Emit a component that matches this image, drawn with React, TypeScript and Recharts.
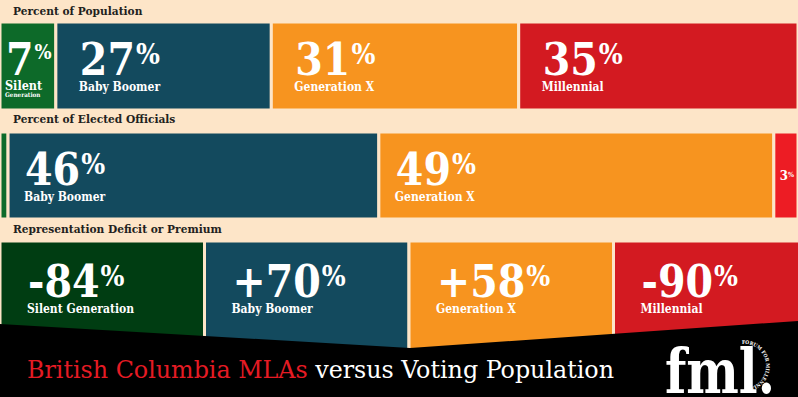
import React from 'react';
import { BarChart, Bar, XAxis, YAxis, LabelList } from 'recharts';

// generations, left to right
const generations = ['Silent Generation', 'Baby Boomer', 'Generation X', 'Millennial'];
const genKeys = ['silent', 'boomer', 'genx', 'millennial'];

// row values (percent)
const populationShare = [7, 27, 31, 35];
const electedShare = [1, 46, 49, 3];
const representationGap = [-84, 70, 58, -90];
// deficit row: every generation gets an equal cell
const gapCellShare = [1, 1, 1, 1];

const rowTitles = ['Percent of Population', 'Percent of Elected Officials', 'Representation Deficit or Premium'];

const BG = '#fde5c8';
const INK = '#231f20';
const FONT = '"DejaVu Serif Condensed", "DejaVu Serif", serif';

const populationColors = ['#0d6a29', '#134a5e', '#f7941f', '#d31a21'];
const electedColors = ['#0d6a29', '#134a5e', '#f7941f', '#ed1c24'];
const gapColors = ['#003d12', '#134a5e', '#f7941f', '#d31a21'];

const fmtShare = (v: number) => `${v}`;
const fmtGap = (v: number) => (v > 0 ? `+${v}` : `${v}`);

const SegmentLabel = (props: any) => {
  const { x, y, width, text, name, offset, lift } = props;
  const bx = Number(x);
  const top = Number(y) + 1.5;
  const w = Number(width);

  if (w > 120) {
    return (
      <g fontFamily={FONT} fontWeight="bold" fill="#fff">
        <text x={bx + offset} y={top + 51 + lift}>
          <tspan fontSize={44}>{text}</tspan>
          <tspan fontSize={28} dx={1} dy={-11}>%</tspan>
        </text>
        <text x={bx + offset - 1} y={top + 67 + lift} fontSize={12}>{name}</text>
      </g>
    );
  }
  if (w > 40) {
    const words = name.split(' ');
    return (
      <g fontFamily={FONT} fontWeight="bold" fill="#fff">
        <text x={bx + 6} y={top + 51}>
          <tspan fontSize={44}>{text}</tspan>
          <tspan fontSize={20} dx={1} dy={-16}>%</tspan>
        </text>
        <text x={bx + 5} y={top + 66} fontSize={12.5}>{words[0]}</text>
        <text x={bx + 5} y={top + 73.5} fontSize={6.3}>{words[1]}</text>
      </g>
    );
  }
  if (w > 15) {
    return (
      <text x={bx + 6} y={top + 46} fontFamily={FONT} fontWeight="bold" fill="#fff">
        <tspan fontSize={13}>{text}</tspan>
        <tspan fontSize={7} dy={-3}>%</tspan>
      </text>
    );
  }
  return null;
};

interface RowProps {
  top: number;
  height: number;
  width: number;
  values: number[];
  labels: string[];
  colors: string[];
  domainMax: number;
  offset: number;
  lift?: number;
}

const StackRow = ({ top, height, width, values, labels, colors, domainMax, offset, lift = 0 }: RowProps) => {
  const row: Record<string, any> = { name: 'row' };
  genKeys.forEach((k, i) => { row[k] = values[i]; });
  return (
    <div style={{ position: 'absolute', left: 0, top: top - 1.5 }}>
      <BarChart
        width={width}
        height={height + 3}
        data={[row]}
        layout="vertical"
        margin={{ top: 0, right: 0, bottom: 0, left: 0 }}
        barCategoryGap={0}
      >
        <XAxis type="number" hide domain={[0, domainMax]} allowDataOverflow />
        <YAxis type="category" dataKey="name" hide width={0} />
        {genKeys.map((k, i) => (
          <Bar key={k} dataKey={k} stackId="s" fill={colors[i]} stroke={BG} strokeWidth={3} isAnimationActive={false}>
            <LabelList
              dataKey={k}
              content={(p: any) => (
                <SegmentLabel {...p} text={labels[i]} name={generations[i]} offset={offset} lift={lift} />
              )}
            />
          </Bar>
        ))}
      </BarChart>
    </div>
  );
};

export default function App() {
  const sum = (a: number[]) => a.reduce((s, v) => s + v, 0);
  return (
    <div style={{ position: 'relative', width: 798, height: 397, overflow: 'hidden', background: BG }}>
      <style>{'body{margin:0}'}</style>

      <StackRow top={23} height={85} width={798} values={populationShare}
        labels={populationShare.map(fmtShare)} colors={populationColors}
        domainMax={sum(populationShare)} offset={24} />
      <StackRow top={133} height={84} width={798} values={electedShare}
        labels={electedShare.map(fmtShare)} colors={electedColors}
        domainMax={sum(electedShare)} offset={17} />
      <StackRow top={242} height={108} width={818} values={gapCellShare}
        labels={representationGap.map(fmtGap)} colors={gapColors}
        domainMax={sum(gapCellShare)} offset={28} lift={3} />

      <svg width={798} height={397} style={{ position: 'absolute', left: 0, top: 0, pointerEvents: 'none' }}>
        {rowTitles.map((t, i) => (
          <text key={t} x={13} y={[15, 123, 233][i]} fontFamily={FONT} fontWeight="bold" fontSize={11.8} fill={INK}>
            {t}
          </text>
        ))}

        <polygon points="0,324 410,348 798,321 798,397 0,397" fill="#000" />

        <text x={27} y={378} fontFamily={FONT} fontSize={25} textLength={587} lengthAdjust="spacingAndGlyphs">
          <tspan fill="#e51b24">British Columbia MLAs</tspan>
          <tspan fill="#fff"> versus Voting Population</tspan>
        </text>

        <text x={665} y={393} fontFamily={FONT} fontWeight="bold" fontSize={62} fill="#fff"
          textLength={110} lengthAdjust="spacingAndGlyphs">
          fml.
        </text>
        <defs>
          <path id="logoArc" d="M 742 344 A 22 22 0 0 1 746 388" />
        </defs>
        <text fontFamily={FONT} fontSize={5} fill="#fff" fontWeight="bold">
          <textPath href="#logoArc">FORUM FOR MILLENNIAL LEADERSHIP</textPath>
        </text>
      </svg>
    </div>
  );
}
